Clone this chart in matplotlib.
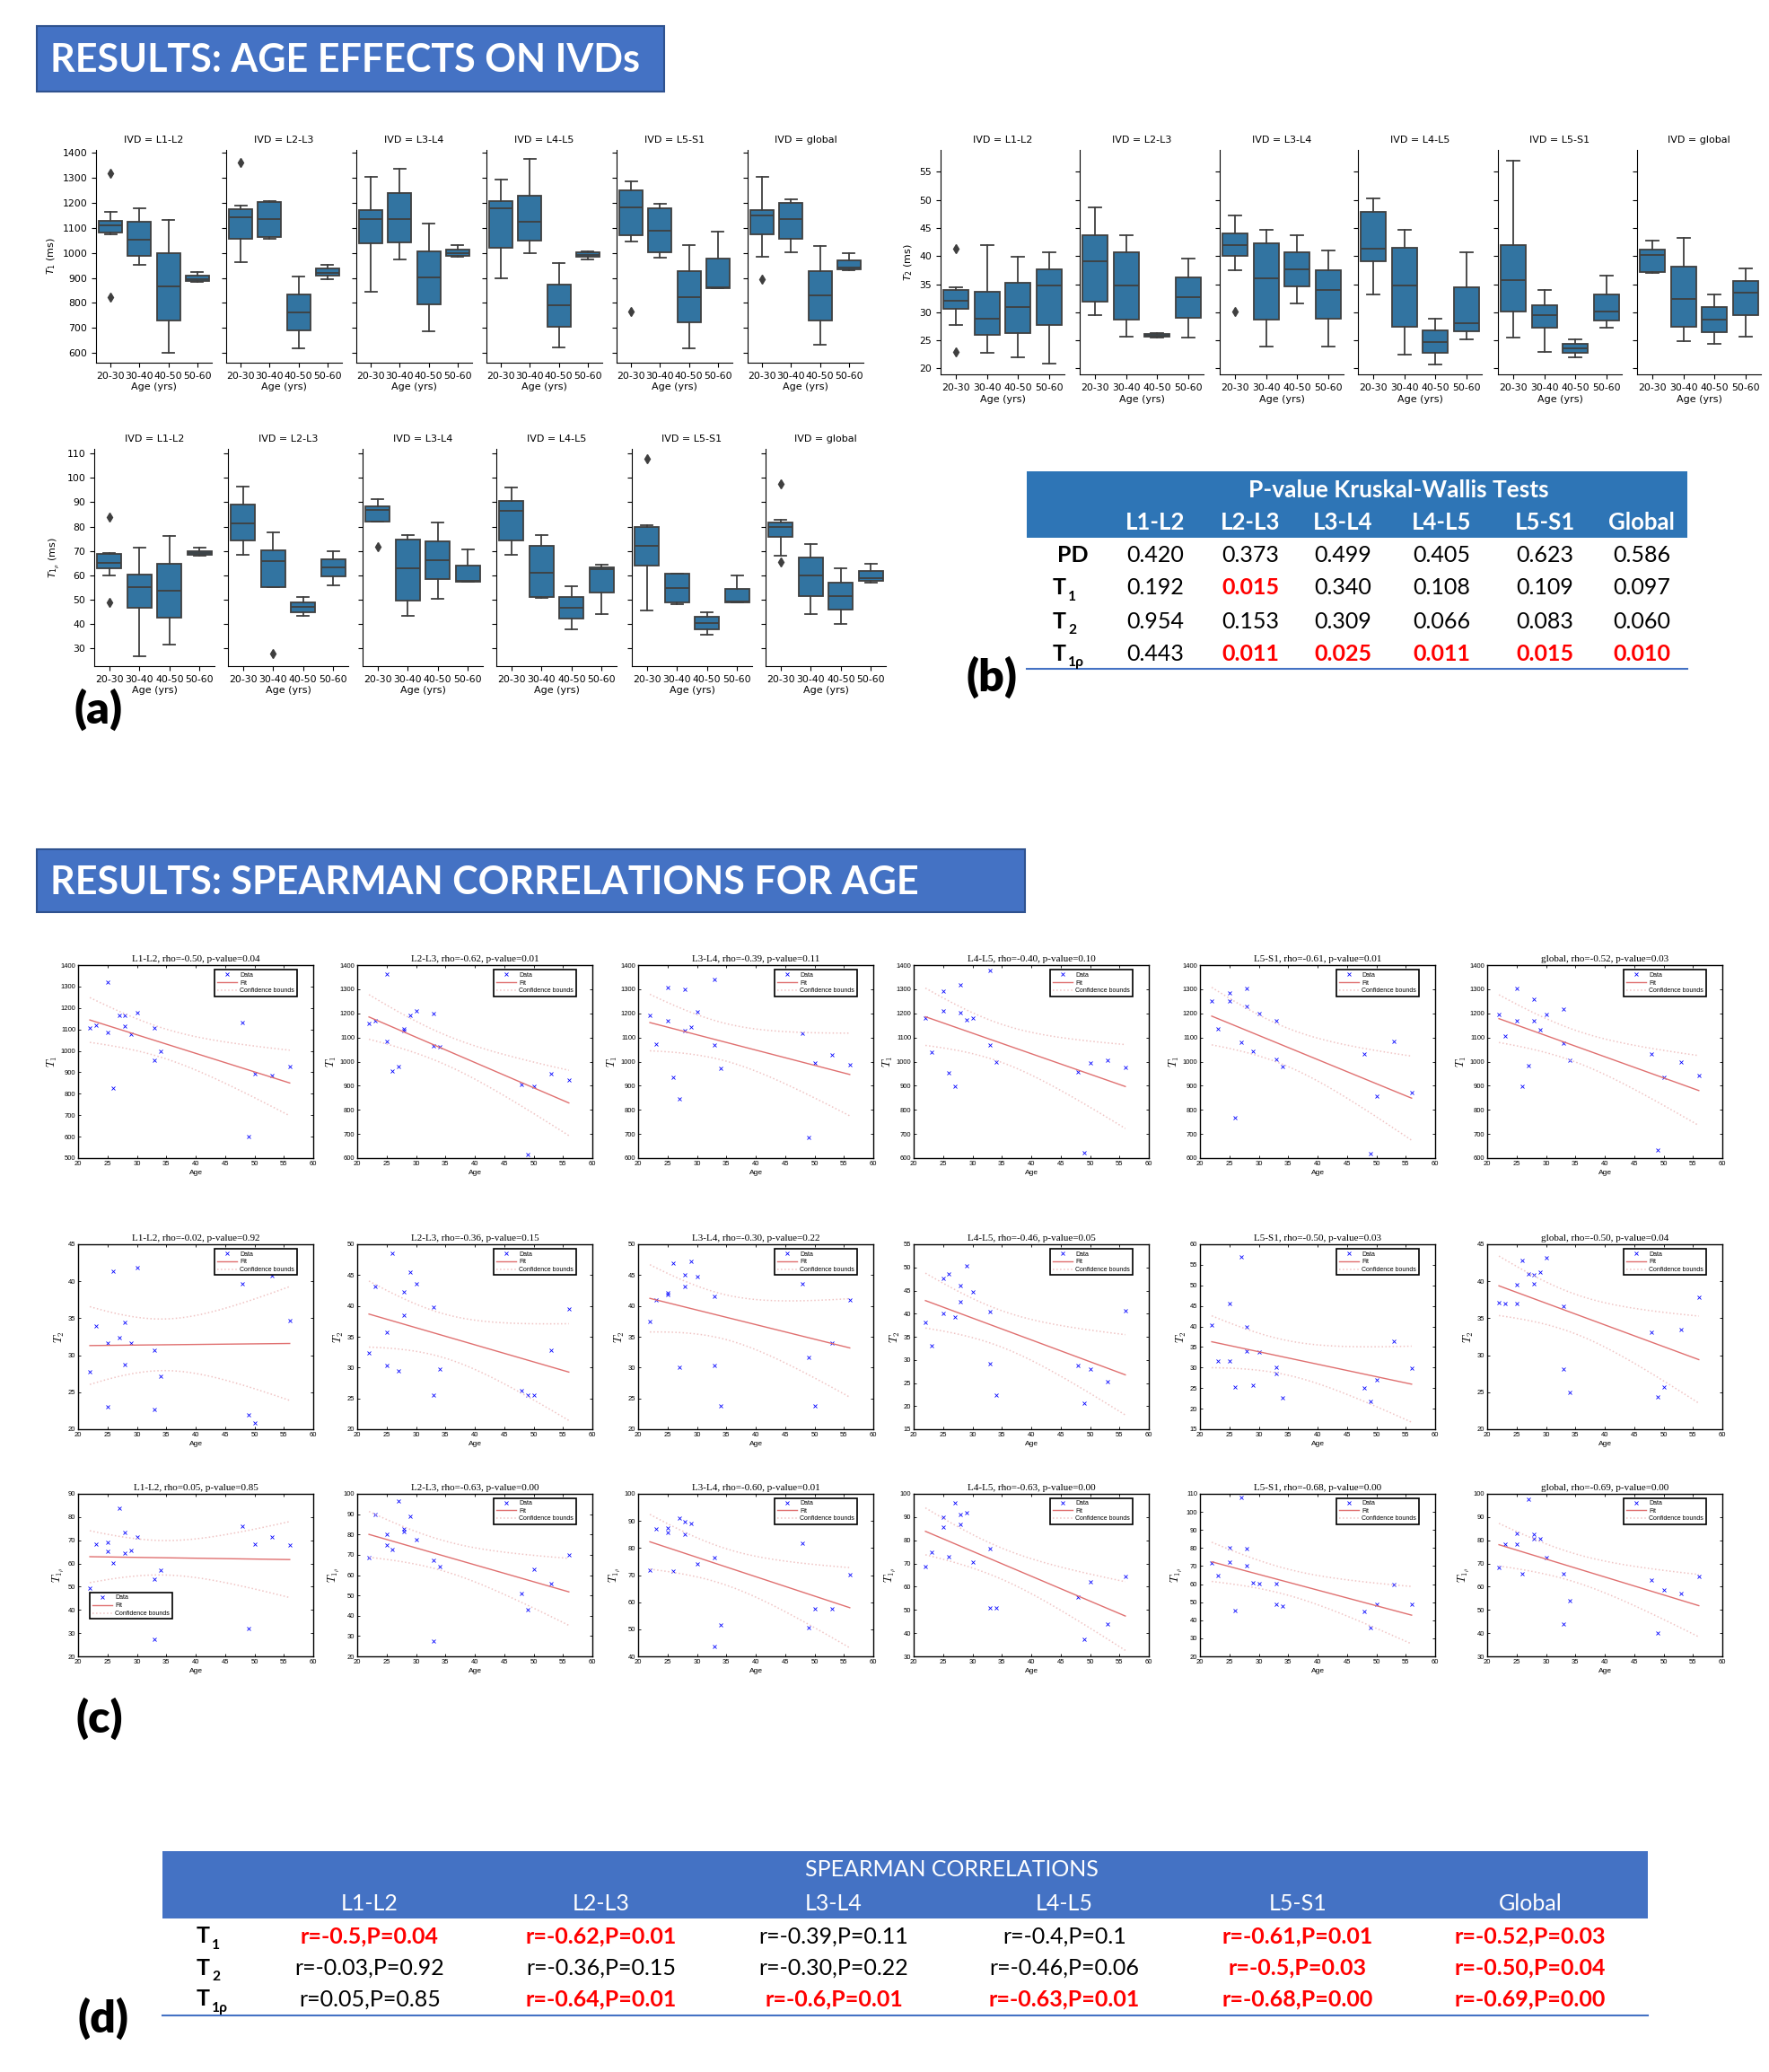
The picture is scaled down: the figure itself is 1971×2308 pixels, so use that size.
import numpy as np
import matplotlib
matplotlib.use("Agg")
import matplotlib.pyplot as plt
from matplotlib.patches import Rectangle

W, H = 1971, 2308

# ------------------------------------------------------------
# data
# ------------------------------------------------------------
ivds = ["L1-L2", "L2-L3", "L3-L4", "L4-L5", "L5-S1", "global"]
age_groups = ["20-30", "30-40", "40-50", "50-60"]

# box summaries per IVD and age group: whislo, q1, median, q3, whishi
t1_box = [
    [[1074, 1082, 1110, 1128, 1164], [953, 987, 1052, 1124, 1178], [599, 730, 865, 998, 1131], [885, 888, 895, 908, 924]],
    [[963, 1056, 1144, 1176, 1190], [1058, 1064, 1134, 1203, 1207], [617, 690, 762, 834, 904], [896, 909, 921, 937, 953]],
    [[845, 1038, 1137, 1173, 1306], [973, 1042, 1136, 1238, 1338], [688, 795, 902, 1008, 1116], [986, 990, 999, 1013, 1030]],
    [[900, 1019, 1177, 1207, 1293], [999, 1050, 1125, 1230, 1375], [623, 705, 791, 875, 959], [975, 984, 992, 1002, 1007]],
    [[1044, 1070, 1183, 1252, 1287], [981, 1002, 1088, 1177, 1197], [617, 721, 823, 928, 1032], [858, 860, 864, 976, 1084]],
    [[983, 1074, 1149, 1173, 1303], [1001, 1055, 1134, 1201, 1216], [632, 731, 830, 929, 1027], [932, 934, 941, 970, 998]],
]
t1_fliers = [
    [[1318, 822], [], [], []], [[1363], [], [], []], [[], [], [], []],
    [[], [], [], []], [[766], [], [], []], [[895], [], [], []],
]

t2_box = [
    [[27.8, 30.6, 32.1, 34.0, 34.5], [22.7, 26.0, 28.9, 33.6, 42.0], [22.0, 26.3, 30.9, 35.3, 39.8], [20.8, 27.7, 34.8, 37.7, 40.6]],
    [[29.5, 31.9, 39.1, 43.7, 48.6], [25.7, 28.7, 34.8, 40.7, 43.7], [25.5, 25.6, 25.8, 26.2, 26.3], [25.5, 29.0, 32.7, 36.2, 39.5]],
    [[37.5, 40.0, 42.0, 44.0, 47.2], [23.9, 28.7, 36.0, 42.3, 44.6], [31.6, 34.6, 37.7, 40.6, 43.7], [23.9, 28.9, 34.0, 37.5, 41.0]],
    [[33.1, 39.0, 41.3, 47.8, 50.2], [22.4, 27.4, 34.7, 41.4, 44.6], [20.7, 22.7, 24.7, 26.7, 28.8], [25.2, 26.6, 28.1, 34.4, 40.7]],
    [[25.5, 30.2, 35.8, 41.9, 57.0], [22.9, 27.3, 29.5, 31.2, 33.9], [22.0, 22.8, 23.6, 24.4, 25.2], [27.2, 28.6, 30.1, 33.2, 36.5]],
    [[37.0, 37.2, 40.2, 41.1, 42.8], [24.9, 27.4, 32.4, 38.2, 43.2], [24.4, 26.5, 28.7, 30.9, 33.1], [25.7, 29.5, 33.5, 35.6, 37.8]],
]
t2_fliers = [
    [[41.3, 22.9], [], [], []], [[], [], [], []], [[30.1], [], [], []],
    [[], [], [], []], [[], [], [], []], [[], [], [], []],
]

t1rho_box = [
    [[60.0, 63.0, 65.0, 68.7, 69.3], [26.8, 46.6, 55.0, 60.4, 71.2], [31.5, 42.6, 53.8, 64.9, 76.1], [68.2, 68.3, 69.3, 70.0, 71.2]],
    [[68.4, 74.4, 81.3, 89.0, 96.6], [55.1, 55.1, 65.9, 70.2, 77.6], [43.2, 45.0, 47.1, 49.0, 51.1], [56.0, 59.4, 63.2, 66.6, 70.0]],
    [[82.2, 82.2, 86.7, 88.2, 91.3], [43.5, 49.5, 63.0, 74.8, 76.6], [50.5, 58.3, 66.1, 73.9, 81.7], [57.4, 57.5, 57.6, 64.1, 70.6]],
    [[68.5, 74.4, 86.5, 90.7, 96.2], [50.6, 50.9, 61.0, 72.2, 76.5], [37.7, 42.2, 46.6, 51.1, 55.6], [43.9, 53.0, 62.4, 63.4, 64.4]],
    [[45.6, 64.1, 72.1, 79.9, 80.6], [48.0, 48.8, 54.8, 60.6, 60.6], [35.7, 37.9, 40.4, 42.8, 45.0], [48.8, 48.9, 49.3, 54.5, 60.1]],
    [[68.2, 75.7, 79.8, 81.6, 82.9], [44.0, 51.5, 59.9, 67.4, 72.8], [40.2, 45.8, 51.5, 57.1, 62.8], [57.1, 57.9, 58.8, 61.7, 64.6]],
]
t1rho_fliers = [
    [[83.8, 48.9], [], [], []], [[], [27.7], [], []], [[71.6], [], [], []],
    [[], [], [], []], [[107.8], [], [], []], [[97.7, 65.5], [], [], []],
]

# Kruskal-Wallis p-values
kw_cols = ["L1-L2", "L2-L3", "L3-L4", "L4-L5", "L5-S1", "Global"]
kw_pd = [0.420, 0.373, 0.499, 0.405, 0.623, 0.586]
kw_t1 = [0.192, 0.015, 0.340, 0.108, 0.109, 0.097]
kw_t2 = [0.954, 0.153, 0.309, 0.066, 0.083, 0.060]
kw_t1rho = [0.443, 0.011, 0.025, 0.011, 0.015, 0.010]

# subject ages and per-IVD values for the correlation plots
ages = [22, 23, 25, 25, 26, 27, 28, 28, 29, 30, 33, 33, 34, 48, 49, 50, 53, 56]
t1_points = [
    [1108, 1121, 1320, 1087, 825, 1167, 1167, 1115, 1076, 1178, 1108, 956, 999, 1133, 600, 892, 886, 928],
    [1159, 1171, 1363, 1083, 961, 978, 1134, 1130, 1191, 1209, 1200, 1066, 1060, 904, 615, 896, 951, 922],
    [1193, 1074, 1308, 1168, 934, 844, 1301, 1129, 1145, 1208, 1339, 1068, 972, 1118, 687, 996, 1029, 987],
    [1179, 1040, 1292, 1212, 952, 899, 1318, 1204, 1173, 1179, 1376, 1068, 999, 959, 622, 995, 1007, 975],
    [1251, 1135, 1286, 1251, 768, 1080, 1304, 1229, 1043, 1198, 1169, 1009, 981, 1031, 617, 857, 1083, 870],
    [1195, 1107, 1304, 1168, 897, 985, 1258, 1169, 1133, 1196, 1219, 1076, 1004, 1030, 632, 934, 1000, 942],
]
t2_points = [
    [27.8, 34.0, 31.7, 23.0, 41.4, 32.4, 34.4, 28.7, 31.7, 41.9, 30.7, 22.7, 27.2, 39.7, 21.9, 20.8, 40.7, 34.7],
    [32.4, 43.1, 35.8, 30.4, 48.6, 29.5, 42.3, 38.5, 45.5, 43.6, 39.8, 25.6, 29.8, 26.3, 25.5, 25.5, 32.8, 39.5],
    [37.5, 41.0, 41.9, 42.1, 46.9, 30.1, 45.1, 43.1, 47.3, 44.7, 41.6, 30.3, 23.8, 43.6, 31.6, 23.8, 34.0, 41.0],
    [38.2, 33.0, 47.6, 40.0, 48.5, 39.2, 46.1, 42.6, 50.3, 44.7, 40.4, 29.1, 22.4, 28.7, 20.7, 28.1, 25.2, 40.7],
    [40.4, 31.5, 45.5, 31.5, 25.3, 56.9, 39.8, 33.9, 25.6, 33.8, 30.0, 28.6, 22.6, 25.0, 21.8, 27.0, 36.3, 29.9],
    [37.1, 37.0, 39.5, 37.0, 42.8, 41.0, 40.9, 39.6, 41.2, 43.2, 36.6, 28.1, 25.0, 33.1, 24.4, 25.7, 33.5, 37.8],
]
t1rho_points = [
    [49.2, 68.4, 69.3, 65.1, 60.1, 84.0, 64.3, 73.2, 65.5, 71.4, 27.5, 53.4, 57.0, 76.0, 32.1, 68.5, 71.5, 68.1],
    [68.4, 89.8, 80.1, 75.0, 72.5, 96.6, 82.7, 81.3, 88.8, 77.5, 67.5, 27.7, 64.2, 50.9, 43.2, 63.0, 56.0, 70.0],
    [71.8, 87.1, 87.3, 85.9, 71.6, 91.1, 89.7, 85.2, 89.2, 74.1, 76.4, 43.5, 51.5, 81.7, 50.5, 57.5, 57.5, 70.2],
    [68.5, 75.0, 90.0, 85.7, 72.8, 96.0, 91.2, 86.8, 92.0, 70.8, 76.3, 51.0, 50.7, 55.6, 37.5, 62.1, 43.8, 64.3],
    [71.5, 65.0, 80.3, 72.0, 45.5, 107.8, 79.5, 70.0, 61.0, 60.5, 60.3, 49.0, 48.0, 45.0, 35.7, 49.0, 59.8, 48.7],
    [68.1, 78.3, 82.8, 78.2, 65.4, 97.7, 82.5, 80.8, 80.8, 72.6, 65.4, 44.0, 54.0, 62.7, 40.2, 58.6, 57.0, 64.4],
]
t1_rho = ["-0.50", "-0.62", "-0.39", "-0.40", "-0.61", "-0.52"]
t1_pval = ["0.04", "0.01", "0.11", "0.10", "0.01", "0.03"]
t2_rho = ["-0.02", "-0.36", "-0.30", "-0.46", "-0.50", "-0.50"]
t2_pval = ["0.92", "0.15", "0.22", "0.05", "0.03", "0.04"]
t1rho_rho = ["0.05", "-0.63", "-0.60", "-0.63", "-0.68", "-0.69"]
t1rho_pval = ["0.85", "0.00", "0.01", "0.00", "0.00", "0.00"]

# Spearman summary table
sp_cols = ["L1-L2", "L2-L3", "L3-L4", "L4-L5", "L5-S1", "Global"]
sp_t1 = ["r=-0.5,P=0.04", "r=-0.62,P=0.01", "r=-0.39,P=0.11", "r=-0.4,P=0.1", "r=-0.61,P=0.01", "r=-0.52,P=0.03"]
sp_t2 = ["r=-0.03,P=0.92", "r=-0.36,P=0.15", "r=-0.30,P=0.22", "r=-0.46,P=0.06", "r=-0.5,P=0.03", "r=-0.50,P=0.04"]
sp_t1rho = ["r=0.05,P=0.85", "r=-0.64,P=0.01", "r=-0.6,P=0.01", "r=-0.63,P=0.01", "r=-0.68,P=0.00", "r=-0.69,P=0.00"]

# ------------------------------------------------------------
# style
# ------------------------------------------------------------
BOX_FACE = "#3274a1"
BOX_EDGE = "#3f3f3f"
HEAD_BLUE = "#4472c4"
KW_BLUE = "#2e75b6"
RED = "#ff0000"
SANS = ["Lato", "DejaVu Sans"]
T_CRIT = 2.12  # two-sided 95 %, 16 dof

fig = plt.figure(figsize=(W / 100, H / 100), dpi=100)
canvas = fig.add_axes([0, 0, 1, 1])
canvas.set_xlim(0, W)
canvas.set_ylim(H, 0)
canvas.axis("off")


def px_axes(x0, y0, x1, y1):
    return fig.add_axes([x0 / W, 1 - y1 / H, (x1 - x0) / W, (y1 - y0) / H])


def banner(x0, y0, x1, y1, text):
    canvas.add_patch(Rectangle((x0, y0), x1 - x0, y1 - y0, facecolor=HEAD_BLUE,
                               edgecolor="#2f528f", lw=1.5))
    canvas.text(x0 + 15, (y0 + y1) / 2 + 2, text, color="white", fontsize=31,
                fontweight="bold", family=SANS, ha="left", va="center")


def panel_label(x, y, text):
    canvas.text(x, y, text, fontsize=36, fontweight="heavy", family=SANS,
                ha="left", va="center")


# ------------------------------------------------------------
# (a) box plots
# ------------------------------------------------------------
def box_row(stats, fliers, lefts, width, top, bottom, ylim, yticks, ylabel):
    for i, ivd in enumerate(ivds):
        ax = px_axes(lefts[i], top, lefts[i] + width, bottom)
        bstats = []
        for g in range(len(age_groups)):
            lo, q1, med, q3, hi = stats[i][g]
            bstats.append(dict(whislo=lo, q1=q1, med=med, q3=q3, whishi=hi,
                               fliers=fliers[i][g]))
        ax.bxp(bstats, positions=range(4), widths=0.8, patch_artist=True,
               capwidths=0.4,
               boxprops=dict(facecolor=BOX_FACE, edgecolor=BOX_EDGE, linewidth=1.3),
               medianprops=dict(color=BOX_EDGE, linewidth=1.3),
               whiskerprops=dict(color=BOX_EDGE, linewidth=1.3),
               capprops=dict(color=BOX_EDGE, linewidth=1.3),
               flierprops=dict(marker="d", markerfacecolor=BOX_EDGE,
                               markeredgecolor=BOX_EDGE, markersize=5))
        ax.set_xlim(-0.5, 3.5)
        ax.set_ylim(*ylim)
        ax.set_yticks(yticks)
        ax.set_xticks(range(4))
        ax.set_xticklabels(age_groups)
        ax.tick_params(labelsize=7.8, length=3.5, width=0.8)
        if i == 0:
            ax.set_ylabel(ylabel, fontsize=8)
        else:
            ax.tick_params(labelleft=False)
        ax.set_title(f"IVD = {ivd}", fontsize=8)
        ax.set_xlabel("Age (yrs)", fontsize=8, labelpad=2)
        for s in ("top", "right"):
            ax.spines[s].set_visible(False)


box_row(t1_box, t1_fliers, [107, 252, 397, 542, 687, 833], 129, 167, 404,
        (561, 1412), range(600, 1401, 100), r"$T_1$ (ms)")
box_row(t1rho_box, t1rho_fliers, [105, 254, 404, 553, 704, 853], 134, 500, 742,
        (22.7, 111.9), range(30, 111, 10), r"$T_{1_\rho}$ (ms)")
box_row(t2_box, t2_fliers, [1048, 1203, 1359, 1513, 1669, 1824], 138, 167, 417,
        (18.94, 58.9), range(20, 56, 5), r"$T_2$ (ms)")

# ------------------------------------------------------------
# (b) Kruskal-Wallis table
# ------------------------------------------------------------
kw_x = [1287, 1393, 1496, 1606, 1721, 1829]
canvas.add_patch(Rectangle((1144, 525), 736, 74, facecolor=KW_BLUE, edgecolor="none"))
canvas.text(1558, 546, "P-value Kruskal-Wallis Tests", color="white", fontsize=19,
            fontweight="bold", family=SANS, ha="center", va="center")
for x, c in zip(kw_x, kw_cols):
    canvas.text(x, 582, c, color="white", fontsize=18.5, fontweight="bold",
                family=SANS, ha="center", va="center")


def row_label(x, y, sub, size, bold=True):
    w = "bold" if bold else "normal"
    canvas.text(x, y, "T", fontsize=size, fontweight=w, family=SANS, ha="left", va="center")
    canvas.text(x + size * 0.95, y + size * 0.55, sub, fontsize=size * 0.62, fontweight=w,
                family=SANS, ha="left", va="center")


kw_rows = [kw_pd, kw_t1, kw_t2, kw_t1rho]
kw_y = [618, 655, 692, 728]
canvas.text(1195, kw_y[0], "PD", fontsize=18, fontweight="bold", family=SANS,
            ha="center", va="center")
row_label(1173, kw_y[1], "1", 18)
row_label(1173, kw_y[2], "2", 18)
row_label(1173, kw_y[3], "1ρ", 18)
for vals, y in zip(kw_rows, kw_y):
    for x, v in zip(kw_x, vals):
        sig = v < 0.05
        canvas.text(x, y, f"{v:.3f}", fontsize=18, family=SANS, ha="center", va="center",
                    color=RED if sig else "black", fontweight="bold" if sig else "normal")
canvas.plot([1144, 1880], [745, 745], color=HEAD_BLUE, lw=1.5)

# ------------------------------------------------------------
# (c) correlation scatter plots
# ------------------------------------------------------------
sc_lefts = [87, 398, 711, 1018, 1337, 1657]
sc_width = 262


def scatter_row(values, rhos, pvals, top, bottom, ylims, ystep, ylabel, legend_locs):
    x = np.asarray(ages, float)
    for i, ivd in enumerate(ivds):
        ax = px_axes(sc_lefts[i], top, sc_lefts[i] + sc_width, bottom)
        y = np.asarray(values[i], float)
        slope, icpt = np.polyfit(x, y, 1)
        xs = np.linspace(x.min(), x.max(), 120)
        fit = icpt + slope * xs
        s = np.sqrt(np.sum((y - (icpt + slope * x)) ** 2) / (len(x) - 2))
        half = T_CRIT * s * np.sqrt(1 / len(x) + (xs - x.mean()) ** 2 / np.sum((x - x.mean()) ** 2))
        ax.plot(x, y, "x", color="blue", ms=3.5, mew=0.6, label="Data")
        ax.plot(xs, fit, color="#e07070", lw=1.0, label="Fit")
        ax.plot(xs, fit + half, ":", color="#f0c4c4", lw=1.1, label="Confidence bounds")
        ax.plot(xs, fit - half, ":", color="#f0c4c4", lw=1.1)
        ax.set_xlim(20, 60)
        ax.set_ylim(*ylims[i])
        ax.set_xticks(range(20, 61, 5))
        ax.set_yticks(np.arange(ylims[i][0], ylims[i][1] + 0.1, ystep))
        ax.tick_params(direction="in", top=True, right=True, length=2.5, width=0.6,
                       labelsize=5.5, pad=2)
        for lab in ax.get_xticklabels() + ax.get_yticklabels():
            lab.set_family("Liberation Sans")
        for sp in ax.spines.values():
            sp.set_linewidth(1.0)
        ax.set_title(f"{ivd}, rho={rhos[i]}, p-value={pvals[i]}", fontsize=8,
                     family="Liberation Serif", pad=3)
        ax.set_xlabel("Age", fontsize=6, family="Liberation Sans", labelpad=2)
        ax.set_ylabel(ylabel, fontsize=9, math_fontfamily="cm", labelpad=1)
        if legend_locs[i] == "upper right":
            anchor = (0.93, 0.975)
        else:
            anchor = (0.05, 0.23)
        leg = ax.legend(loc=legend_locs[i], bbox_to_anchor=anchor, borderaxespad=0,
                        prop=dict(size=5, family="Liberation Sans"), borderpad=0.35,
                        labelspacing=0.25, handlelength=3.2, handletextpad=0.5,
                        fancybox=False, framealpha=1, edgecolor="black")
        leg.get_frame().set_linewidth(1.2)


ur = ["upper right"] * 6
scatter_row(t1_points, t1_rho, t1_pval, 1075, 1290,
            [(500, 1400)] + [(600, 1400)] * 5, 100, r"$T_1$", ur)
scatter_row(t2_points, t2_rho, t2_pval, 1386, 1592,
            [(20, 45), (20, 50), (20, 50), (15, 55), (15, 60), (20, 45)], 5, r"$T_2$", ur)
scatter_row(t1rho_points, t1rho_rho, t1rho_pval, 1664, 1845,
            [(20, 90), (20, 100), (40, 100), (30, 100), (20, 110), (30, 100)], 10,
            r"$T_{1_\rho}$", ["lower left"] + ["upper right"] * 5)

# ------------------------------------------------------------
# (d) Spearman table
# ------------------------------------------------------------
sp_x = [412, 670, 929, 1186, 1446, 1705]
canvas.add_patch(Rectangle((181, 2062), 1655, 75, facecolor=HEAD_BLUE, edgecolor="none"))
canvas.text(1060, 2083, "SPEARMAN CORRELATIONS", color="white", fontsize=18,
            family=SANS, ha="center", va="center")
for x, c in zip(sp_x, sp_cols):
    canvas.text(x, 2120, c, color="white", fontsize=18, family=SANS,
                ha="center", va="center")
sp_y = [2157, 2192, 2227]
row_label(219, sp_y[0], "1", 18)
row_label(219, sp_y[1], "2", 18)
row_label(219, sp_y[2], "1ρ", 18)
for vals, y in zip([sp_t1, sp_t2, sp_t1rho], sp_y):
    for x, s in zip(sp_x, vals):
        sig = float(s.split("P=")[1]) < 0.05
        canvas.text(x, y, s, fontsize=18, family=SANS, ha="center", va="center",
                    color=RED if sig else "black", fontweight="bold" if sig else "normal")
canvas.plot([181, 1836], [2245, 2245], color=HEAD_BLUE, lw=1.5)

# ------------------------------------------------------------
# banners and panel letters
# ------------------------------------------------------------
banner(41, 29, 740, 102, "RESULTS: AGE EFFECTS ON IVDs")
banner(41, 946, 1142, 1016, "RESULTS: SPEARMAN CORRELATIONS FOR AGE")
panel_label(82, 790, "(a)")
panel_label(1077, 754, "(b)")
panel_label(84, 1914, "(c)")
panel_label(86, 2248, "(d)")

fig.savefig("out.png", dpi=100)
